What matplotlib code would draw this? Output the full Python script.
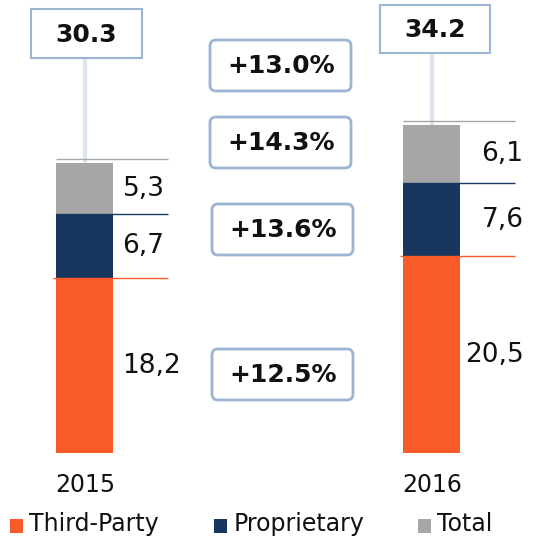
import matplotlib
matplotlib.use("Agg")
import matplotlib.pyplot as plt
from matplotlib.patches import FancyBboxPatch, Rectangle
import numpy as np

plt.rcParams['font.family'] = ['DejaVu Sans']

# ---- data ----
years = ["2015", "2016"]
third_party = [18.2, 20.5]
proprietary = [6.7, 7.6]
total_other = [5.3, 6.1]
third_labels = ["18,2", "20,5"]
prop_labels = ["6,7", "7,6"]
other_labels = ["5,3", "6,1"]
totals = ["30.3", "34.2"]
growth = ["+13.0%", "+14.3%", "+13.6%", "+12.5%"]
legend_names = ["Third-Party", "Proprietary", "Total"]

# ---- style ----
C_ORANGE = "#F95B28"
C_NAVY = "#17375E"
C_GREY = "#A6A6A6"
C_BOX = "#9DB4D2"
C_CONN = "#DCE5F2"

W, H = 537, 539
fig = plt.figure(figsize=(W / 100, H / 100), dpi=100)

# data axes: category 0 at px 85, 1 at px 432; baseline at px 453, 9.6 px/unit
X0, DX, Y0, SY = 85.0, 347.0, 453.0, 9.6
ax = fig.add_axes([0, 0, 1, 1])
ax.set_xlim(-X0 / DX, (W - X0) / DX)
ax.set_ylim((Y0 - H) / SY, Y0 / SY)
ax.axis("off")

# overlay in pixel coordinates for boxes / legend
ov = fig.add_axes([0, 0, 1, 1], zorder=3)
ov.set_xlim(0, W)
ov.set_ylim(H, 0)
ov.axis("off")
ov.patch.set_alpha(0)

x = np.arange(len(years))
bw = 57 / DX
tp = np.array(third_party)
pr = np.array(proprietary)
ot = np.array(total_other)

ax.bar(x, tp, bw, color=C_ORANGE, zorder=2)
ax.bar(x, pr, bw, bottom=tp, color=C_NAVY, zorder=2)
ax.bar(x, ot, bw, bottom=tp + pr, color=C_GREY, zorder=2)

# boundary lines extending right of bars
ext = 55 / DX
for i in x:
    left = i - bw / 2
    right = i + bw / 2 + ext
    ax.hlines(tp[i], left - 3 / DX, right, color=C_ORANGE, lw=1.0, zorder=3)
    ax.hlines(tp[i] + pr[i], left, right, color=C_NAVY, lw=1.0, zorder=3)
    ax.hlines(tp[i] + pr[i] + ot[i] + 0.4, left, right, color=C_GREY, lw=1.0, zorder=3)

# segment value labels
for i in x:
    if i == 0:
        lx, ha = i + bw / 2 + 9 / DX, "left"
    else:
        lx, ha = i + bw / 2 + 63 / DX, "right"
    ax.text(lx, tp[i] / 2, third_labels[i], ha=ha, va="center", fontsize=19, color="#111111")
    ax.text(lx, tp[i] + pr[i] / 2, prop_labels[i], ha=ha, va="center", fontsize=19, color="#111111")
    ax.text(lx, tp[i] + pr[i] + ot[i] / 2, other_labels[i], ha=ha, va="center", fontsize=19, color="#111111")
    ax.annotate(years[i], (i, 0), xytext=(0, -32 * 0.72), textcoords="offset points",
                ha="center", va="center", fontsize=17, color="#111111")

# total boxes and connectors
box_specs = [(31, 9, 111, 49), (380, 5, 110, 48)]
for i, (bx, by, bwid, bh) in enumerate(box_specs):
    top_val = tp[i] + pr[i] + ot[i]
    ax.vlines(i, top_val, (Y0 - (by + bh)) / SY, color=C_CONN, lw=3.0, zorder=1)
    ov.add_patch(Rectangle((bx, by), bwid, bh, fill=True, facecolor="white",
                           edgecolor=C_BOX, lw=1.5))
    ov.text(bx + bwid / 2, by + bh / 2 + 1, totals[i], ha="center", va="center",
            fontsize=18, fontweight="bold", color="#111111")

# growth boxes
g_boxes = [(210, 40), (210, 117), (212, 204), (212, 349)]
for (gx, gy), g in zip(g_boxes, growth):
    ov.add_patch(FancyBboxPatch((gx, gy), 141, 51, boxstyle="round,pad=0,rounding_size=6",
                                facecolor="white", edgecolor=C_BOX, lw=2))
    ov.text(gx + 71, gy + 26, g, ha="center", va="center", fontsize=18,
            fontweight="bold", color="#111111")

# legend
leg_colors = [C_ORANGE, C_NAVY, C_GREY]
leg_sq_x = [10, 214, 418]
leg_tx_x = [29, 234, 437]
for sx, tx, c, n in zip(leg_sq_x, leg_tx_x, leg_colors, legend_names):
    ov.add_patch(Rectangle((sx, 519), 13, 14, facecolor=c, edgecolor="none"))
    ov.text(tx, 531, n, ha="left", va="baseline", fontsize=17, color="#111111")

fig.savefig("out.png", dpi=100)
